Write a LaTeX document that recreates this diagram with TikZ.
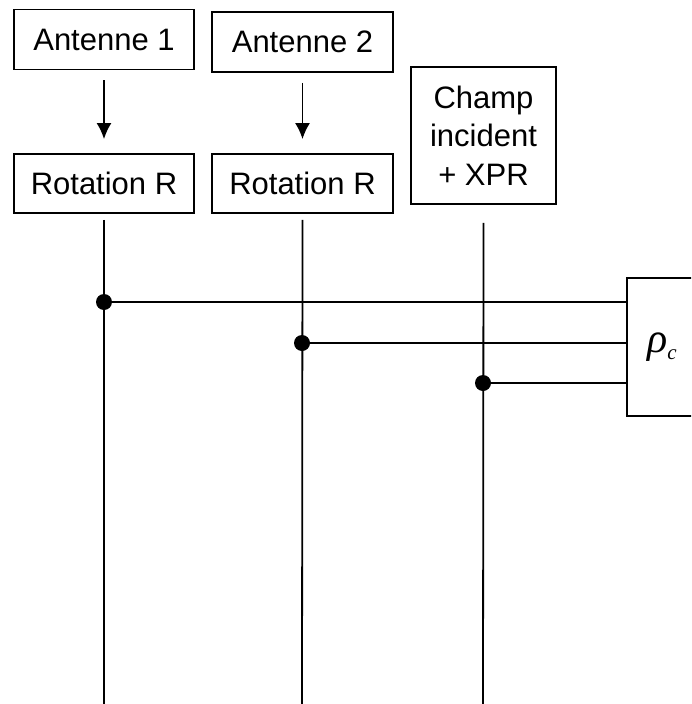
\documentclass[tikz,border=0pt]{standalone}
\usepackage{fontspec}
\setmainfont{Liberation Sans}
\newfontfamily\rhofont{Liberation Serif}
\usetikzlibrary{arrows.meta}

\begin{document}
\begin{tikzpicture}[>={Latex[length=16pt,width=15pt]}, x=1pt, y=-1pt, line width=1.8pt,
		blocco/.style={draw, inner sep=0pt, align=center, font=\fontsize{31}{38.5}\selectfont},
		nodo/.style={circle, fill=black, inner sep=0pt, minimum size=16pt}]
		\useasboundingbox (0,0) rectangle (691,704);
		\clip (0,0) rectangle (691,704);
		% Antenne
		\node [blocco, minimum width=180pt, minimum height=60pt] (ant1) at (104,39.5) {Antenne 1};
		\node [blocco, minimum width=181pt, minimum height=60pt] (ant2) at (302.5,42) {Antenne 2};
		% Rotazioni
		\node [blocco, minimum width=180pt, minimum height=59pt] (rot1) at (104,183.5) {Rotation R};
		\node [blocco, minimum width=181pt, minimum height=59pt] (rot2) at (302.5,183.5) {Rotation R};
		% Campo
		\node [blocco, minimum width=145pt, minimum height=137pt] (champ) at (483.5,135.5) {Champ\\incident\\+ XPR};
		% Correlazione
		\node [draw, inner sep=0pt, minimum width=70pt, minimum height=138pt] (rho) at (662,347)
			{\rhofont\itshape\fontsize{42}{42}\selectfont ρ\raisebox{-7pt}{\fontsize{21}{21}\selectfont c}};
		\coordinate (fine1) at (104,710);
		\coordinate (fine2) at (302,710);
		\coordinate (fine3) at (483,710);
		
		\draw [->] ([yshift=-10pt]ant1.south) -- ([yshift=14pt]rot1.north);
		\draw [->] ([yshift=-10pt]ant2.south) -- ([yshift=14pt]rot2.north);
		
		\draw ([yshift=-6pt]rot1.south) -- (fine1);
		\draw ([yshift=-6pt]rot2.south) -- (fine2);
		\draw ([yshift=-18pt]champ.south) -- (fine3);
		
		% Nodi
		\node [nodo] (p1) at (104,302) {};
		\node [nodo] (p2) at (302,343) {};
		\node [nodo] (p3) at (483,383) {};
		\draw (p1.center) -- (p1 -| rho.west);
		\draw (p2.center) -- (p2 -| rho.west);
		\draw (p3.center) -- (p3 -| rho.west);
	\end{tikzpicture}
\end{document}
